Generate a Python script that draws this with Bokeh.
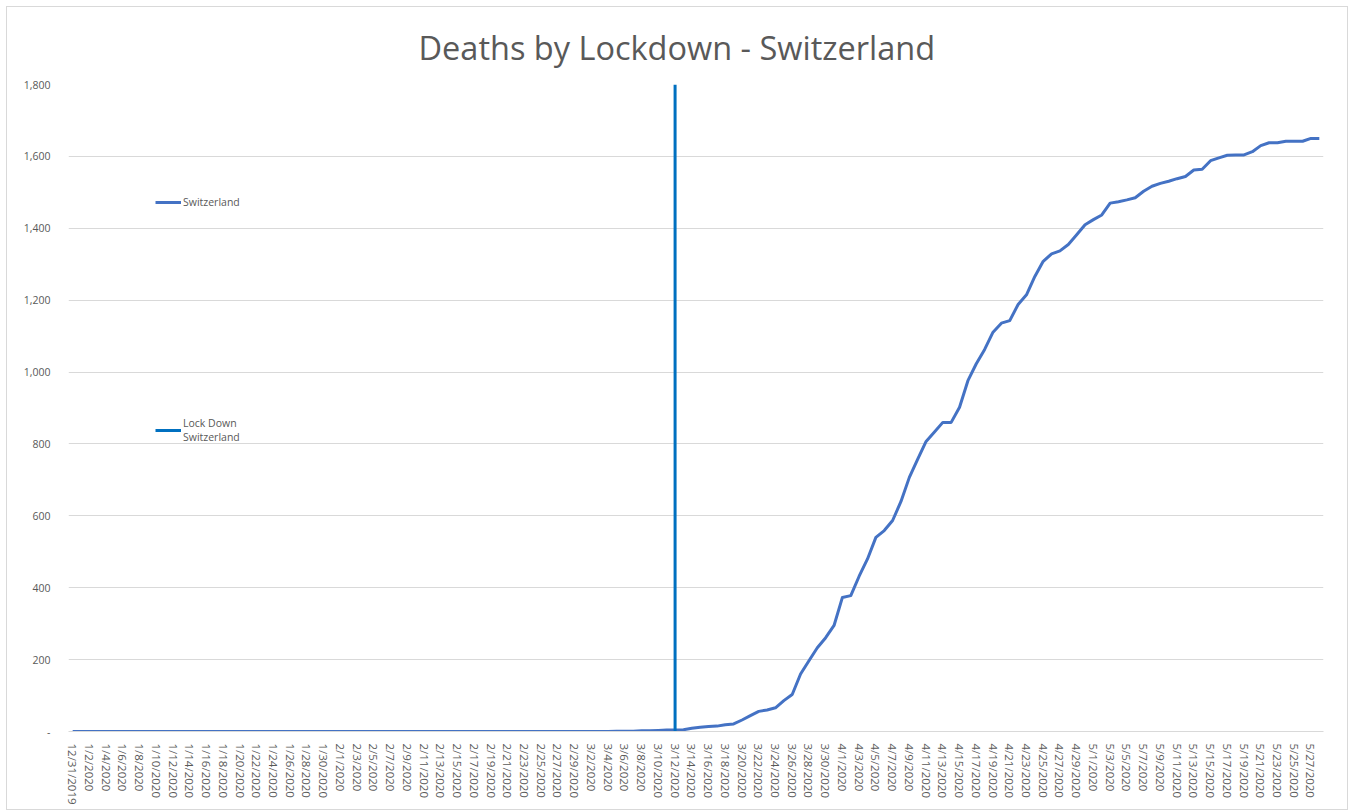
import pandas as pd
from bokeh.plotting import figure
from bokeh.models import FixedTicker, NumeralTickFormatter, Legend, LegendItem, Range1d
from bokeh.embed import file_html
from bokeh.resources import INLINE

# ---- data ----
dates = [f"{d.month}/{d.day}/{d.year}" for d in pd.date_range("2019-12-31", "2020-05-28")]

deaths = ([0] * 65 +
          # 3/5 .. 3/11
          [1, 1, 1, 2, 2, 3, 4] +
          # 3/12 .. 3/31
          [4, 5, 9, 12, 14, 15, 19, 21, 32, 44,
           56, 60, 66, 86, 103, 160, 197, 233, 261, 295] +
          # April
          [373, 378, 432, 480, 540, 559, 587, 640, 707, 758,
           807, 833, 860, 860, 902, 976, 1023, 1063, 1111, 1136,
           1143, 1188, 1215, 1266, 1308, 1329, 1337, 1355, 1382, 1410] +
          # May 1 .. 5/28
          [1424, 1437, 1470, 1474, 1479, 1485, 1503, 1517, 1525, 1531,
           1538, 1544, 1562, 1564, 1588, 1596, 1603, 1604, 1604, 1613,
           1630, 1638, 1638, 1642, 1642, 1642, 1650, 1650])

lockdown_date = "3/12/2020"
lockdown_y = [0, 1800]
y_ticks = [0, 200, 400, 600, 800, 1000, 1200, 1400, 1600, 1800]
x_label_step = 2

series_name = "Switzerland"
lockdown_name = "Lock Down\nSwitzerland"
title_text = "Deaths by Lockdown - Switzerland"

# ---- figure ----
x = list(range(len(dates)))
lock_idx = dates.index(lockdown_date)

TXT = "#595959"
GRID = "#d9d9d9"

p = figure(width=1342, height=804,
           x_range=Range1d(-0.5, len(dates) - 0.5),
           y_range=Range1d(y_ticks[0], y_ticks[-1]),
           output_backend="svg", toolbar_location=None,
           min_border_left=61, min_border_right=26,
           min_border_top=77, min_border_bottom=80,
           background_fill_color="white", border_fill_color="white")
p.styles = {"border": "1px solid #d9d9d9", "margin": "6px 0 0 6px"}
p.outline_line_color = None

p.title.text = title_text
p.title.align = "left"
p.title.offset = 350
p.title.text_font = "Open Sans"
p.title.text_font_size = "32.5px"
p.title.text_font_style = "normal"
p.title.text_color = TXT
p.title.standoff = 29

r_sw = p.line(x, deaths, line_color="#4472C4", line_width=3, line_join="round")
r_ld = p.line([lock_idx, lock_idx], lockdown_y, line_color="#0070C0", line_width=3)

# x axis
ticks = list(range(0, len(dates), x_label_step))
xa = p.xaxis[0]
xa.ticker = FixedTicker(ticks=ticks)
xa.major_label_overrides = {i: dates[i] for i in ticks}
xa.major_label_orientation = "vertical"
xa.major_label_text_font = "Open Sans"
xa.major_label_text_font_size = "11.5px"
xa.major_label_text_color = TXT
xa.axis_line_color = GRID
xa.major_tick_line_color = None
xa.minor_tick_line_color = None
xa.major_label_standoff = 6

# y axis
ya = p.yaxis[0]
ya.ticker = FixedTicker(ticks=y_ticks)
ya.formatter = NumeralTickFormatter(format="0,0")
ya.major_label_overrides = {0: "-"}
ya.major_label_text_font = "Open Sans"
ya.major_label_text_font_size = "10.5px"
ya.major_label_text_color = TXT
ya.axis_line_color = None
ya.major_tick_line_color = None
ya.minor_tick_line_color = None
ya.major_label_standoff = 12

p.xgrid.grid_line_color = None
p.ygrid.grid_line_color = GRID
p.ygrid.grid_line_width = 1


def make_legend(item, loc):
    lg = Legend(items=[item], location=loc, orientation="vertical")
    lg.border_line_color = None
    lg.background_fill_alpha = 0
    lg.label_text_font = "Open Sans"
    lg.label_text_font_size = "10.5px"
    lg.label_text_color = TXT
    lg.glyph_width = 26
    lg.glyph_height = 12
    lg.label_height = 12
    lg.label_standoff = 2
    lg.padding = 0
    lg.margin = 0
    return lg


p.add_layout(make_legend(LegendItem(label=series_name, renderers=[r_sw]), (87, 522)))
p.add_layout(make_legend(LegendItem(label=lockdown_name, renderers=[r_ld]), (87, 287)))

open("out.html", "w").write(file_html(p, INLINE))
